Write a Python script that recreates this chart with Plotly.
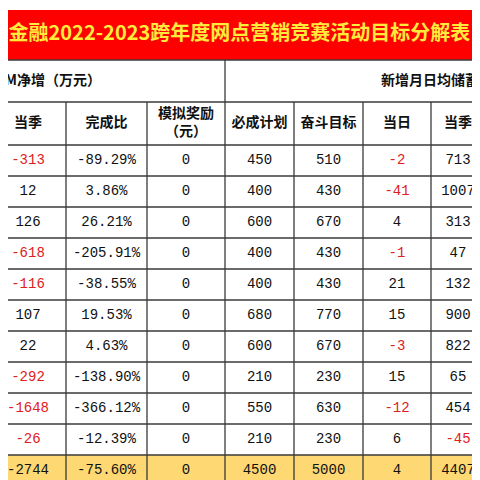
import plotly.graph_objects as go

title = "金融2022-2023跨年度网点营销竞赛活动目标分解表（"
group_left = "AUM净增（万元）"
group_right = "新增月日均储蓄存款"
headers = ["当季", "完成比", "模拟奖励<br>（元）", "必成计划", "奋斗目标", "当日", "当季"]

aum_season = [-313, 12, 126, -618, -116, 107, 22, -292, -1648, -26]
ratio = ["-89.29%", "3.86%", "26.21%", "-205.91%", "-38.55%", "19.53%", "4.63%",
         "-138.90%", "-366.12%", "-12.39%"]
reward = [0, 0, 0, 0, 0, 0, 0, 0, 0, 0]
plan = [450, 400, 600, 400, 400, 680, 600, 210, 550, 210]
goal = [510, 430, 670, 430, 430, 770, 670, 230, 630, 230]
dep_day = [-2, -41, 4, -1, 21, 15, -3, 15, -12, 6]
dep_season = [713, 1007, 313, 47, 132, 900, 822, 65, 454, -45]
total = [-2744, "-75.60%", 0, 4500, 5000, 4, 4407]

xb = [-18, 58, 139, 217, 286, 355, 423, 477]
top, h1, h2, row0, rh = 2, 52, 94, 137, 31
xc = [(a + b) / 2 for a, b in zip(xb[:-1], xb[1:])]

fig = go.Figure()
shapes = [
    dict(type="rect", x0=-20, x1=500, y0=top, y1=h1, fillcolor="#fe0000", line_width=0, layer="below"),
    dict(type="rect", x0=-20, x1=500, y0=row0 + 10 * rh, y1=row0 + 11 * rh,
         fillcolor="#fdd873", line_width=0, layer="below"),
]
lc = dict(color="#3a3a3a", width=1.3)
for y in [h1, h2, row0] + [row0 + i * rh for i in range(1, 12)]:
    shapes.append(dict(type="line", x0=-20, x1=500, y0=y, y1=y, line=lc))
for x in xb[1:-1]:
    shapes.append(dict(type="line", x0=x, x1=x, y0=h1 if x == 217 else h2, y1=row0 + 11 * rh, line=lc))

fig.add_trace(go.Scatter(x=[0.5], y=[(top + h1) / 2], mode="text", text=["<b>" + title + "</b>"],
                         textposition="middle right", cliponaxis=False,
                         textfont=dict(size=20, color="#ffeb3b", family="Noto Sans CJK SC")))
fig.add_trace(go.Scatter(x=[93, 373], y=[(h1 + h2) / 2] * 2, mode="text", cliponaxis=False,
                         text=["<b>" + group_left + "</b>", "<b>" + group_right + "</b>"],
                         textposition=["middle left", "middle right"],
                         textfont=dict(size=14, color="#111", family="Noto Sans CJK SC")))
fig.add_trace(go.Scatter(x=xc, y=[(h2 + row0) / 2] * 7, mode="text", cliponaxis=False,
                         text=["<b>" + t + "</b>" for t in headers],
                         textfont=dict(size=14, color="#111", family="Noto Sans CJK SC")))

cols = [aum_season, ratio, reward, plan, goal, dep_day, dep_season]
red_cols = {0, 5, 6}
for ci, col in enumerate(cols):
    ys = [row0 + rh * (i + 0.5) for i in range(len(col))]
    colors = ["#e02020" if ci in red_cols and v < 0 else "#111" for v in col]
    fig.add_trace(go.Scatter(x=[xc[ci]] * len(col), y=ys, mode="text", text=[str(v) for v in col],
                             cliponaxis=False,
                             textfont=dict(size=14, color=colors, family="Liberation Mono")))
fig.add_trace(go.Scatter(x=xc, y=[row0 + rh * 10.5] * 7, mode="text", text=[str(v) for v in total],
                         cliponaxis=False,
                         textfont=dict(size=14, color="#111", family="Liberation Mono")))

fig.update_layout(width=480, height=480, margin=dict(l=0, r=0, t=0, b=0), showlegend=False,
                  plot_bgcolor="white", paper_bgcolor="white", shapes=shapes,
                  xaxis=dict(range=[0, 480], visible=False, fixedrange=True),
                  yaxis=dict(range=[480, 0], visible=False, fixedrange=True))
fig.write_html("out.html")
